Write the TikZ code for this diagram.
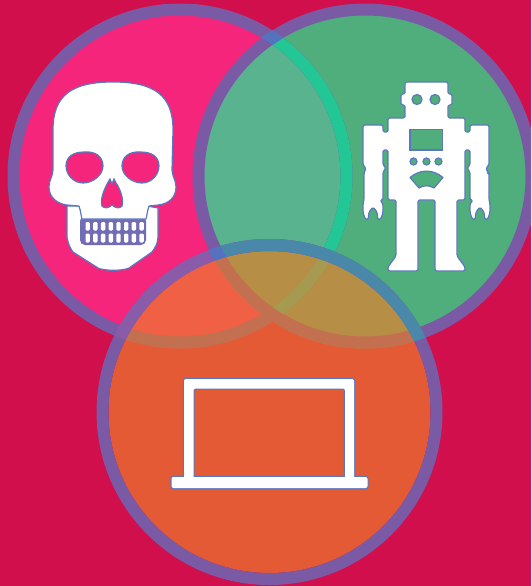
\documentclass[tikz,border=0pt]{standalone}
\definecolor{bgc}{HTML}{D10F4C}
\definecolor{pinkc}{HTML}{F4257B}
\definecolor{greenc}{HTML}{4FAE7C}
\definecolor{pgc}{HTML}{59B38F}
\definecolor{orangec}{HTML}{E45A35}
\definecolor{poc}{HTML}{EF6045}
\definecolor{goc}{HTML}{B78E45}
\definecolor{ringc}{HTML}{7A5AA5}
\definecolor{tealc}{HTML}{22C795}
\definecolor{abc}{HTML}{5572BE}
\definecolor{rorange}{HTML}{C2704F}
\definecolor{rolive}{HTML}{A69A50}
\definecolor{cpink}{HTML}{8A5BA8}
\definecolor{cgreen}{HTML}{4A88AA}
\definecolor{cross}{HTML}{5572C0}
\definecolor{edge}{HTML}{5B78BE}
\newcommand{\discA}[1]{(180,176) circle[radius=#1pt]}
\newcommand{\discB}[1]{(365,176) circle[radius=#1pt]}
\newcommand{\discC}[1]{(269.5,412) circle[radius=#1pt]}
\tikzset{
  icon/.style={fill=white,draw=edge,line width=1.2pt,line join=round},
  hole/.style={draw=edge,line width=1.2pt},
  eoclip/.code={\pgfseteorule}
}
\begin{document}
\begin{tikzpicture}[x=1pt,y=-1pt]
\useasboundingbox (0,0) rectangle (531,586);
\clip (0,0) rectangle (531,586);
\fill[bgc] (0,0) rectangle (531,586);
% discs
\fill[pinkc] \discA{166};
\fill[greenc] \discB{166};
\begin{scope}\clip \discA{166}; \fill[pgc] \discB{166}; \end{scope}
% rings A and B
\fill[ringc,even odd rule] \discA{172.5} \discA{160.5};
\begin{scope}\clip \discB{172.5};
  \fill[tealc,even odd rule] \discA{172.5} \discA{160.5};
\end{scope}
\fill[ringc,even odd rule] \discB{172.5} \discB{160.5};
\begin{scope}[eoclip]\clip \discA{172.5} \discA{160.5};
  \fill[abc,even odd rule] \discB{172.5} \discB{160.5};
\end{scope}
% disc C, opaque regions
\begin{scope}\clip \discC{161};
  \fill[orangec] \discC{170};
  \fill[poc] \discA{172.5};
  \fill[goc] \discB{172.5};
  \fill[rorange,even odd rule] \discA{172.5} \discA{160.5};
  \fill[rorange,even odd rule] \discB{172.5} \discB{160.5};
  \begin{scope}\clip \discB{160.5};
    \fill[rolive,even odd rule] \discA{172.5} \discA{160.5};
  \end{scope}
\end{scope}
% ring C
\fill[ringc,even odd rule] \discC{173} \discC{161};
\begin{scope}\clip \discA{172.5};
  \fill[cpink,even odd rule] \discC{173} \discC{161};
\end{scope}
\begin{scope}\clip \discB{172.5};
  \fill[cgreen,even odd rule] \discC{173} \discC{161};
\end{scope}
\begin{scope}[eoclip]\clip \discB{172.5} \discB{160.5};
  \begin{scope}\clip \discA{172.5};
    \fill[cross,even odd rule] \discC{173} \discC{161};
  \end{scope}
\end{scope}
% skull
\draw[icon] (67,206) -- (67,237) .. controls (68,243) and (70,248) .. (73,252)
  -- (98,268) .. controls (104,271) and (123,271) .. (129,268) -- (152,252)
  .. controls (155,248) and (158,243) .. (158,237) -- (158,208) -- (147,206) -- cycle;
\fill[edge!85!pinkc,rounded corners=5pt] (80,216) rectangle (146,245);
\foreach \x in {0,...,7} {
  \fill[white,rounded corners=1.2pt] ({85.5+\x*7.7},222) rectangle ++(4.4,8.5);
  \fill[white,rounded corners=1.2pt] ({85.5+\x*7.7},233.5) rectangle ++(4.4,9);
}
\draw[icon] (113,82) .. controls (72,82) and (53,95) .. (53,130)
  -- (53,170) .. controls (53,176) and (49,180) .. (49,187)
  .. controls (49,198) and (58,204) .. (67,205) -- (79,206) .. controls (81,212) and (81,216) .. (82,219)
  -- (146,219) .. controls (147,216) and (147,212) .. (149,206) -- (158,205)
  .. controls (168,204) and (176,198) .. (176,187)
  .. controls (176,180) and (172,176) .. (172,170) -- (173,130)
  .. controls (173,95) and (154,82) .. (113,82) -- cycle;
% eye and nose holes
\filldraw[hole,fill=pinkc] (84,152) .. controls (96,151) and (103,157) .. (103,166)
  .. controls (103,175) and (93,183) .. (83,183) .. controls (73,183) and (66,174) .. (66,166)
  .. controls (66,157) and (73,152) .. (84,152) -- cycle;
\filldraw[hole,fill=pinkc] (141,152) .. controls (129,151) and (122,157) .. (122,166)
  .. controls (122,175) and (132,183) .. (142,183) .. controls (152,183) and (159,174) .. (159,166)
  .. controls (159,157) and (152,152) .. (141,152) -- cycle;
\filldraw[hole,fill=pinkc] (110,179) -- (112,184) -- (114,179) -- (116,183)
  .. controls (121,190) and (124,201) .. (122,206) .. controls (120,209) and (115,208) .. (112,205)
  .. controls (109,208) and (104,209) .. (102,206) .. controls (100,201) and (103,190) .. (110,179) -- cycle;
% robot
\draw[icon,rounded corners=1.5pt] (405,82) -- (448,82) -- (448,94) -- (452,94) -- (452,105) -- (448,105) -- (448,118)
  -- (465,118) -- (465,132) -- (470,132) -- (470,125) -- (489,125) -- (489,165) -- (486,168) -- (488,173) -- (489,173) -- (489,200)
  -- (490,204) -- (490,212) -- (488,219) -- (485,220) -- (484,212) -- (480,207) -- (476,212) -- (475,220) -- (472,219) -- (470,212) -- (470,204) -- (473,200)
  -- (470,200) -- (470,172) -- (467,168) -- (470,165) -- (470,150) -- (465,150) -- (465,200)
  -- (457,200) -- (457,256) -- (465,267) -- (465,271) -- (435,271) -- (435,200) -- (418,200) -- (418,271)
  -- (388,271) -- (388,267) -- (396,256) -- (396,200)
  -- (388,200) -- (388,150) -- (383,150) -- (383,165) -- (386,168) -- (383,172) -- (383,200)
  -- (380,200) -- (383,204) -- (383,212) -- (381,219) -- (378,220) -- (377,212) -- (373,207) -- (369,212) -- (368,220) -- (365,219) -- (363,212) -- (363,204) -- (364,200) -- (364,173) -- (366,168) -- (363,165) -- (363,125)
  -- (383,125) -- (383,132) -- (388,132) -- (388,118) -- (405,118) -- (405,105) -- (401,105) -- (401,94) -- (405,94) -- cycle;
\filldraw[hole,fill=greenc] (417,99.5) circle[radius=5pt];
\filldraw[hole,fill=greenc] (435,99.5) circle[radius=5pt];
\filldraw[hole,fill=greenc] (410,129.5) rectangle (442.5,150);
\filldraw[hole,fill=greenc] (413.5,161.5) circle[radius=3.5pt];
\filldraw[hole,fill=greenc] (426.5,161.5) circle[radius=3.5pt];
\filldraw[hole,fill=greenc] (438.5,161.5) circle[radius=3.5pt];
\filldraw[hole,fill=greenc,line join=round] (410,177.5) .. controls (420,169) and (433,169) .. (443,177.5)
  -- (434,188) .. controls (429,185) and (424,185) .. (419,188) -- cycle;
% laptop: outline first, white fill over it so frame and base merge
\draw[draw=edge,line width=2.2pt,rounded corners=2pt] (184,477) -- (184,379) -- (354,379) -- (354,477) -- (345,477) -- (345,388.5) -- (193.5,388.5) -- (193.5,477) -- cycle;
\draw[draw=edge,line width=2.2pt,rounded corners=2pt] (171.5,477) rectangle (367.5,488);
\fill[white,rounded corners=2pt] (184,479) -- (184,379) -- (354,379) -- (354,479) -- (345,479) -- (345,388.5) -- (193.5,388.5) -- (193.5,479) -- cycle;
\fill[white,rounded corners=2pt] (171.5,477) rectangle (367.5,488);
\end{tikzpicture}
\end{document}
